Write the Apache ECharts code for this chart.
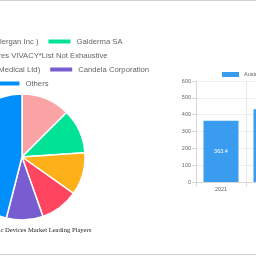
<!DOCTYPE html>
<html><head><meta charset="utf-8">
<script src="https://cdn.jsdelivr.net/npm/echarts@6/dist/echarts.min.js"></script>
<style>
html,body{margin:0;padding:0;width:256px;height:256px;overflow:hidden;background:#fff;position:relative}
#pie{position:absolute;left:-178px;top:0;width:400px;height:256px}
#bar{position:absolute;left:0;top:0;width:400px;height:256px}
</style></head>
<body>
<div id="pie"></div>
<div id="bar"></div>
<script>
// Pie data
const players = ["AbbVie Inc (Allergan Inc )", "Galderma SA", "Laboratoires VIVACY*List Not Exhaustive", "Alma Lasers (Sisram Medical Ltd)", "Candela Corporation", "Others"];
const shares = [12.5, 11.4, 10.9, 9.8, 9.4, 46.0];
const pieColors = ["#F9A3A4", "#00E396", "#FEB019", "#FF4560", "#775DD0", "#008FFB"];
const legendRows = [[0, 1], [2], [3, 4], [5]];
const pieTitle = "Australia Aesthetic Devices Market Leading Players";

// Bar data
const years = ["2021", "2022"];
const marketSize = [363.4, 432.0];
const barSeriesName = "Australia Aesthetic Devices Market Size (USD Million)";
const yTicks = { min: 0, max: 600, interval: 100 };

const pie = echarts.init(document.getElementById('pie'), null, {renderer: 'canvas'});
const rowTops = [37.5, 51.5, 65.5, 79.5];
pie.setOption({
  animation: false,
  title: {
    text: pieTitle, left: 'center', top: 222,
    textStyle: {fontFamily: 'Liberation Serif', fontSize: 6.6, fontWeight: 'normal', color: '#222'}
  },
  legend: legendRows.map((row, i) => ({
    data: row.map(k => players[k]),
    left: 'center', top: rowTops[i], padding: 0, itemGap: 8,
    icon: 'rect', itemWidth: 24, itemHeight: 6,
    textStyle: {fontFamily: 'Liberation Sans', fontSize: 7.7, color: '#666'}
  })),
  series: [{
    type: 'pie', radius: 63, center: [200, 157], startAngle: 90, clockwise: true,
    label: {show: false}, labelLine: {show: false},
    itemStyle: {borderColor: '#fff', borderWidth: 1.5},
    data: players.map((n, i) => ({name: n, value: shares[i], itemStyle: {color: pieColors[i]}}))
  }]
});

const bar = echarts.init(document.getElementById('bar'), null, {renderer: 'canvas'});
bar.setOption({
  animation: false,
  graphic: [
    {type: 'line', shape: {x1: 0, y1: 0.5, x2: 256, y2: 0.5}, style: {stroke: '#d0d0d0', lineWidth: 1}},
    {type: 'line', shape: {x1: 0, y1: 254.5, x2: 256, y2: 254.5}, style: {stroke: '#d0d0d0', lineWidth: 1}}
  ],
  legend: {
    data: [barSeriesName], left: 222, top: 71.5, padding: 0,
    icon: 'rect', itemWidth: 17, itemHeight: 5,
    textStyle: {fontFamily: 'Liberation Sans', fontSize: 5.5, color: '#666'}
  },
  grid: {left: 196, top: 81, width: 50 * years.length, height: 101, containLabel: false},
  xAxis: {
    type: 'category', data: years,
    axisLine: {lineStyle: {color: '#d6d6d6'}},
    axisTick: {show: true, length: 4, lineStyle: {color: '#d6d6d6'}},
    splitLine: {show: true, lineStyle: {color: '#e8e8e8'}},
    axisLabel: {fontFamily: 'Liberation Sans', fontSize: 5.5, color: '#666', margin: 4}
  },
  yAxis: {
    type: 'value', min: yTicks.min, max: yTicks.max, interval: yTicks.interval,
    axisLine: {show: true, lineStyle: {color: '#d6d6d6'}},
    axisTick: {show: true, length: 4, lineStyle: {color: '#d6d6d6'}},
    splitLine: {show: true, lineStyle: {color: '#eeeeee'}},
    axisLabel: {fontFamily: 'Liberation Sans', fontSize: 5.5, color: '#666', margin: 5}
  },
  series: [{
    name: barSeriesName, type: 'bar', data: marketSize, barWidth: '70%',
    itemStyle: {color: '#3a9cee'},
    label: {show: true, position: 'inside', color: '#fff', fontFamily: 'Liberation Sans', fontSize: 5.5,
      formatter: p => p.value.toFixed(1)}
  }]
});
</script>
</body></html>
